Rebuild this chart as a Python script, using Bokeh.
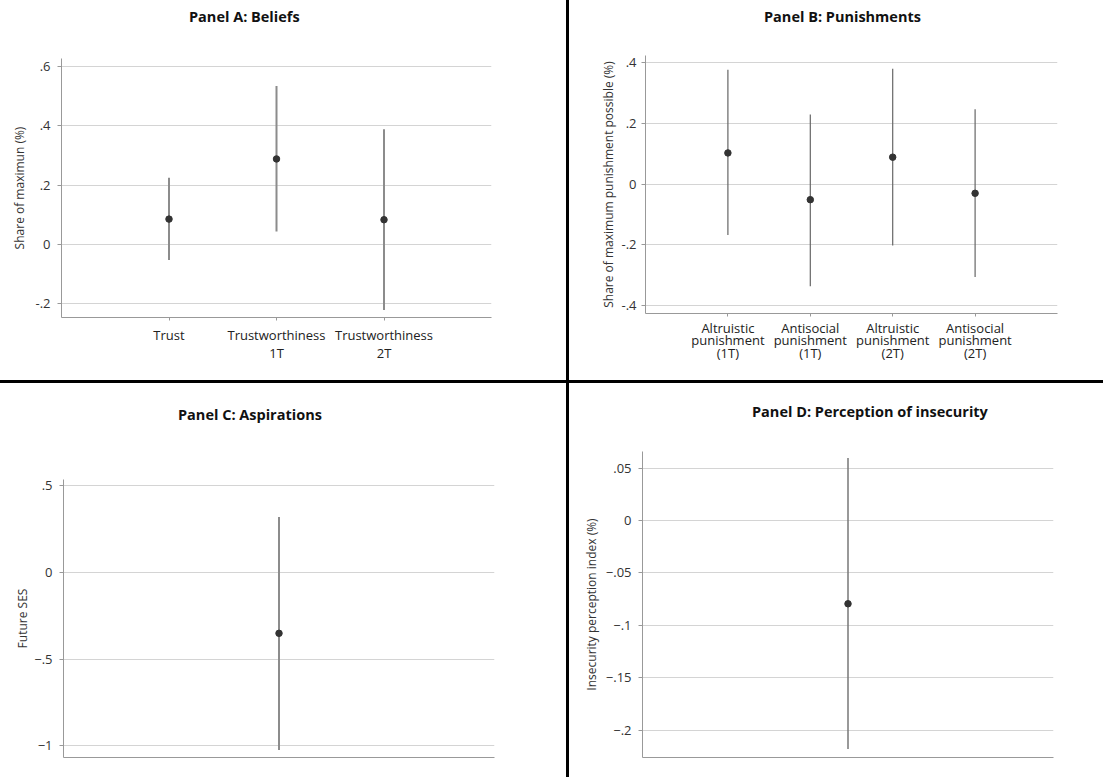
from bokeh.plotting import figure
from bokeh.models import Range1d, FixedTicker, Div
from bokeh.layouts import row, column
from bokeh.embed import file_html
from bokeh.resources import INLINE

FONT = "Open Sans"

# ---------------- data ----------------
a_labels = ["Trust", "Trustworthiness\n1T", "Trustworthiness\n2T"]
a_x = [1, 2, 3]
a_est = [0.085, 0.288, 0.083]
a_lo = [-0.053, 0.043, -0.222]
a_hi = [0.225, 0.534, 0.388]
a_yticks = [-0.2, 0, 0.2, 0.4, 0.6]
a_yticklabels = ["-.2", "0", ".2", ".4", ".6"]

b_labels = ["Altruistic\npunishment\n(1T)", "Antisocial\npunishment\n(1T)",
            "Altruistic\npunishment\n(2T)", "Antisocial\npunishment\n(2T)"]
b_x = [1, 2, 3, 4]
b_est = [0.103, -0.051, 0.089, -0.030]
b_lo = [-0.167, -0.336, -0.202, -0.306]
b_hi = [0.377, 0.230, 0.380, 0.247]
b_yticks = [-0.4, -0.2, 0, 0.2, 0.4]
b_yticklabels = ["-.4", "-.2", "0", ".2", ".4"]

c_x = [1]
c_est = [-0.351]
c_lo = [-1.024]
c_hi = [0.320]
c_yticks = [-1, -0.5, 0, 0.5]
c_yticklabels = ["\u22121", "\u2212.5", "0", ".5"]

d_x = [1]
d_est = [-0.0794]
d_lo = [-0.218]
d_hi = [0.0597]
d_yticks = [-0.2, -0.15, -0.1, -0.05, 0, 0.05]
d_yticklabels = ["\u2212.2", "\u2212.15", "\u2212.1", "\u2212.05", "0", ".05"]

titles = ["Panel A: Beliefs", "Panel B: Punishments",
          "Panel C: Aspirations", "Panel D: Perception of insecurity"]


def title_div(text, w, h, left):
    html = ('<div style="height:%dpx;line-height:%dpx;padding-left:%dpx;'
            'font-family:\'%s\';font-size:14.5px;font-weight:bold;color:#111111;'
            'white-space:nowrap;margin:0">%s</div>' % (h, h, left, FONT, text))
    return Div(text=html, width=w, height=h, margin=0)


def make_panel(w, h, bl, br, bt, bb, xr, yr, xs, est, lo, hi,
               yticks, yticklabels, xticks, xticklabels, ylabel,
               seg_color, seg_width,
               x_line_height=1.2, x_standoff=8, y_standoff=7, ylab_standoff=10):
    p = figure(width=w, height=h, x_range=Range1d(*xr), y_range=Range1d(*yr),
               output_backend="svg", toolbar_location=None,
               min_border_left=bl, min_border_right=br,
               min_border_top=bt, min_border_bottom=bb,
               frame_align=False)

    p.outline_line_color = None
    p.background_fill_color = "white"
    p.border_fill_color = "white"

    p.segment(x0=xs, y0=lo, x1=xs, y1=hi, line_color=seg_color, line_width=seg_width)
    p.scatter(xs, est, size=6.5, fill_color="#333333", line_color="#333333")

    # y axis
    ya = p.yaxis[0]
    ya.ticker = FixedTicker(ticks=yticks)
    ya.major_label_overrides = {t: l for t, l in zip(yticks, yticklabels)}
    ya.axis_label = ylabel
    ya.axis_label_text_font = FONT
    ya.axis_label_text_font_size = "12px"
    ya.axis_label_text_font_style = "normal"
    ya.axis_label_text_color = "#333333"
    ya.axis_label_standoff = ylab_standoff
    ya.major_label_text_font = FONT
    ya.major_label_text_font_size = "13px"
    ya.major_label_text_color = "#333333"
    ya.major_label_standoff = y_standoff
    ya.axis_line_color = "#999999"
    ya.major_tick_line_color = "#999999"
    ya.major_tick_out = 4
    ya.major_tick_in = 0
    ya.minor_tick_line_color = None

    # x axis
    xa = p.xaxis[0]
    xa.ticker = FixedTicker(ticks=xticks)
    xa.major_label_overrides = {t: l for t, l in zip(xticks, xticklabels)}
    xa.major_label_text_font = FONT
    xa.major_label_text_font_size = "13px"
    xa.major_label_text_color = "#222222"
    xa.major_label_text_line_height = x_line_height
    xa.major_label_standoff = x_standoff
    xa.axis_line_color = "#999999"
    xa.major_tick_line_color = "#999999"
    xa.major_tick_out = 3
    xa.major_tick_in = 0
    xa.minor_tick_line_color = None

    p.xgrid.grid_line_color = None
    p.ygrid.grid_line_color = "#d4d4d4"
    p.ygrid.grid_line_width = 1
    return p


pa = make_panel(566, 346, 61, 75, 24, 63, (0, 4), (-0.247, 0.627),
                a_x, a_est, a_lo, a_hi, a_yticks, a_yticklabels, a_x, a_labels,
                "Share of maximun (%)", "#8c8c8c", 2,
                x_line_height=1.0, x_standoff=5, ylab_standoff=4)

pb = make_panel(534, 346, 76, 46, 21, 67, (0, 5), (-0.426, 0.424),
                b_x, b_est, b_lo, b_hi, b_yticks, b_yticklabels, b_x, b_labels,
                "Share of maximum punishment possible (%)", "#666666", 1.2,
                x_line_height=0.72, x_standoff=2, y_standoff=5, ylab_standoff=1)

pc = make_panel(566, 330, 63, 72, 32, 20, (0, 2), (-1.067, 0.536),
                c_x, c_est, c_lo, c_hi, c_yticks, c_yticklabels, [], [],
                "Future SES", "#8c8c8c", 2, y_standoff=7, ylab_standoff=0)

pd_ = make_panel(534, 337, 73, 50, 11, 20, (0, 2),
                 (-0.226, 0.0658), d_x, d_est, d_lo, d_hi, d_yticks, d_yticklabels, [], [],
                 "Insecurity perception index (%)", "#777777", 1.5,
                 y_standoff=7, ylab_standoff=3)

ta = title_div(titles[0], 566, 34, 189)
tb = title_div(titles[1], 534, 34, 195)
tc = title_div(titles[2], 566, 64, 178)
td = title_div(titles[3], 534, 57, 183)

v1 = Div(text="", width=3, height=380, margin=0, styles={"background-color": "black"})
v2 = Div(text="", width=3, height=394, margin=0, styles={"background-color": "black"})
h1 = Div(text="", width=1103, height=3, margin=0, styles={"background-color": "black"})

layout = column(
    row(column(ta, pa), v1, column(tb, pb)),
    h1,
    row(column(tc, pc), v2, column(td, pd_)),
)

open("out.html", "w").write(file_html(layout, INLINE))
